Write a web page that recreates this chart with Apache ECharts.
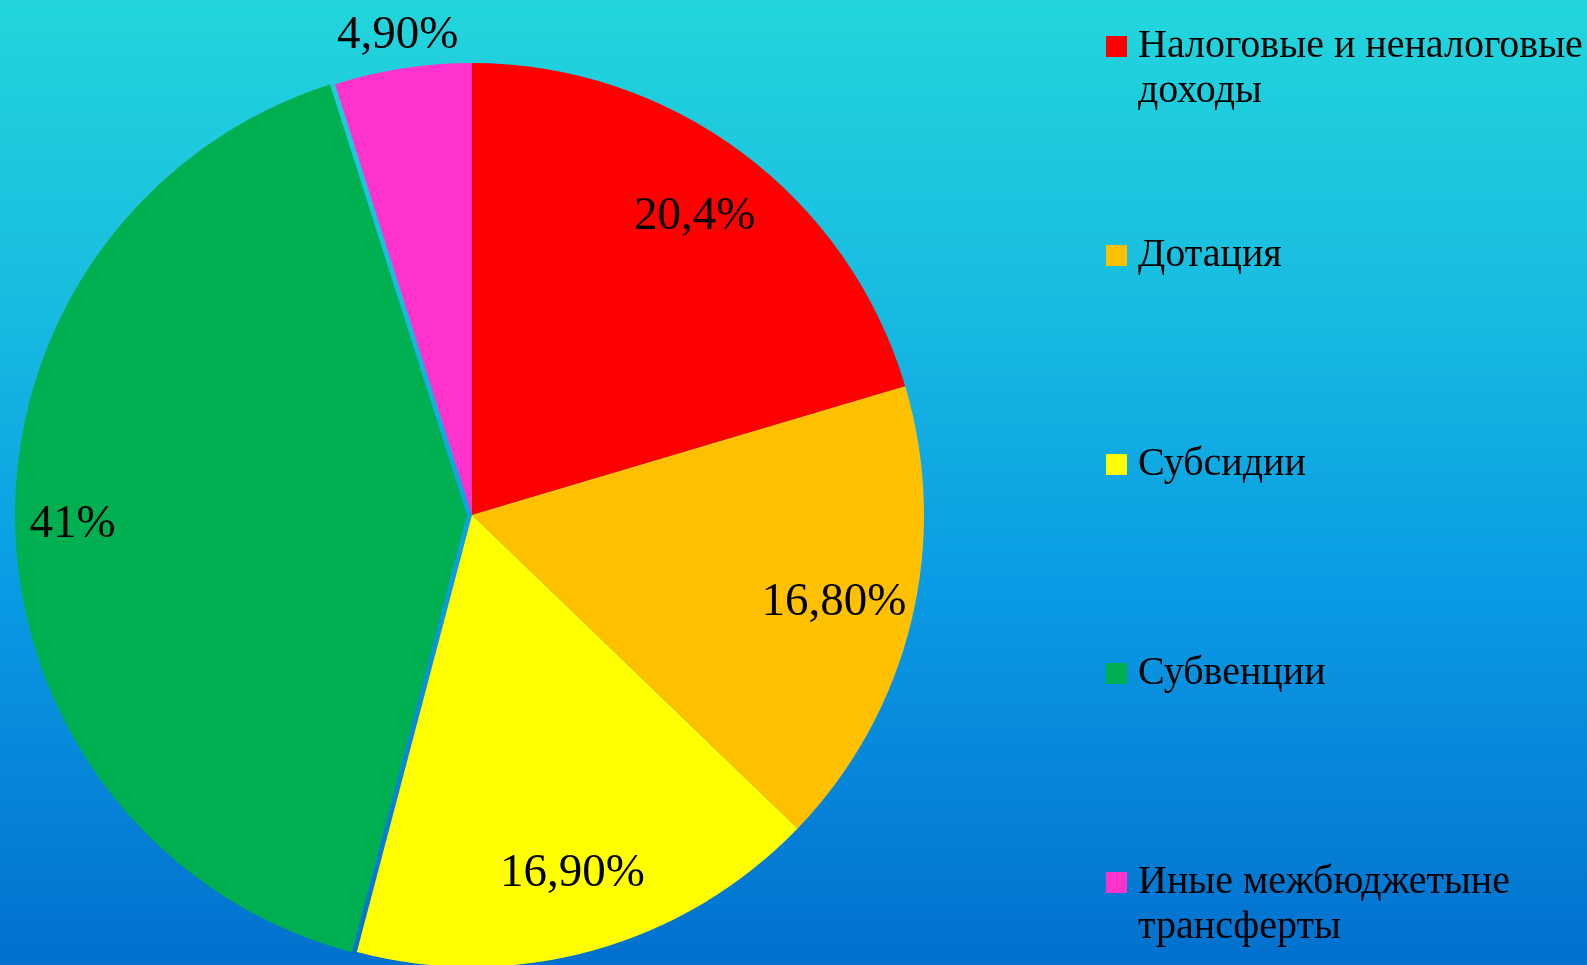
<!DOCTYPE html>
<html>
<head>
<meta charset="utf-8">
<style>
  html, body { margin: 0; padding: 0; }
  #chart { width: 1587px; height: 965px; }
</style>
<script src="https://cdn.jsdelivr.net/npm/echarts@6/dist/echarts.min.js"></script>
</head>
<body>
<div id="chart"></div>
<script>
// ---- data ----
const categories = [
  'Налоговые и неналоговые доходы',
  'Дотация',
  'Субсидии',
  'Субвенции',
  'Иные межбюджетыне трансферты'
];
// legend text lines (first line sits next to the marker)
const legendLines = [
  ['Налоговые и неналоговые', 'доходы'],
  ['Дотация'],
  ['Субсидии'],
  ['Субвенции'],
  ['Иные межбюджетыне', 'трансферты']
];
const values = [20.4, 16.8, 16.9, 41, 4.9];
const valueLabels = ['20,4%', '16,80%', '16,90%', '41%', '4,90%'];
const colors = ['#FF0000', '#FFC000', '#FFFF00', '#00B050', '#FF33CC'];

// ---- layout / style ----
const CX = 472, CY = 515, R = 452;
const LH = 45;
const fontSerif = '"Liberation Serif", "DejaVu Serif", serif';

const mainData = categories.map((c, i) => ({
  name: c,
  value: values[i],
  selected: i === 3,
  itemStyle: { color: colors[i] }
}));

// label carrier series (transparent), inner labels
const innerLabelData = categories.map((c, i) => ({
  name: c,
  value: values[i],
  selected: i === 3,
  label: { show: i !== 4, formatter: valueLabels[i] }
}));
// outer label for the small slice
const outerLabelData = categories.map((c, i) => ({
  name: c,
  value: values[i],
  label: { show: i === 4, formatter: valueLabels[i] }
}));

const labelStyle = {
  position: 'inside',
  color: '#000',
  fontFamily: fontSerif,
  fontSize: 47,
  fontWeight: 'normal'
};

// three-line text block centred on the marker: the first real line is the middle one
function legendText(lines) {
  return ' \n' + lines[0] + '\n' + (lines.length > 1 ? lines[1] : ' ');
}

const chart = echarts.init(document.getElementById('chart'), null, { renderer: 'canvas' });
chart.setOption({
  animation: false,
  backgroundColor: {
    type: 'linear', x: 0, y: 0, x2: 0, y2: 1,
    colorStops: [
      { offset: 0, color: '#22D6DC' },
      { offset: 0.3, color: '#18BDE0' },
      { offset: 0.6, color: '#0A9CE4' },
      { offset: 1, color: '#0270CE' }
    ]
  },
  legend: {
    orient: 'vertical',
    left: 1106,
    top: -21,
    height: 1100,
    padding: 0,
    itemWidth: 21,
    itemHeight: 21,
    itemGap: 74,
    icon: 'rect',
    selectedMode: false,
    data: categories,
    formatter: function (name) {
      return legendText(legendLines[categories.indexOf(name)]);
    },
    textStyle: {
      color: '#000',
      fontFamily: fontSerif,
      fontSize: 40,
      lineHeight: LH,
      padding: [0, 0, 0, 6]
    }
  },
  series: [
    {
      type: 'pie',
      center: [CX, CY],
      radius: [0, R],
      startAngle: 90,
      clockwise: true,
      selectedMode: 'single',
      selectedOffset: 5,
      silent: true,
      label: { show: false },
      labelLine: { show: false },
      emphasis: { disabled: true },
      itemStyle: { borderWidth: 0 },
      data: mainData
    },
    {
      type: 'pie',
      center: [CX, CY],
      radius: [285, R + 2],
      startAngle: 90,
      clockwise: true,
      selectedMode: 'single',
      selectedOffset: 27,
      silent: true,
      itemStyle: { color: 'rgba(0,0,0,0)', borderWidth: 0 },
      label: labelStyle,
      labelLine: { show: false },
      emphasis: { disabled: true },
      data: innerLabelData
    },
    {
      type: 'pie',
      center: [CX, CY],
      radius: [R - 2, R + 62],
      startAngle: 90,
      clockwise: true,
      silent: true,
      itemStyle: { color: 'rgba(0,0,0,0)', borderWidth: 0 },
      label: labelStyle,
      labelLine: { show: false },
      emphasis: { disabled: true },
      data: outerLabelData
    }
  ]
});
</script>
</body>
</html>
